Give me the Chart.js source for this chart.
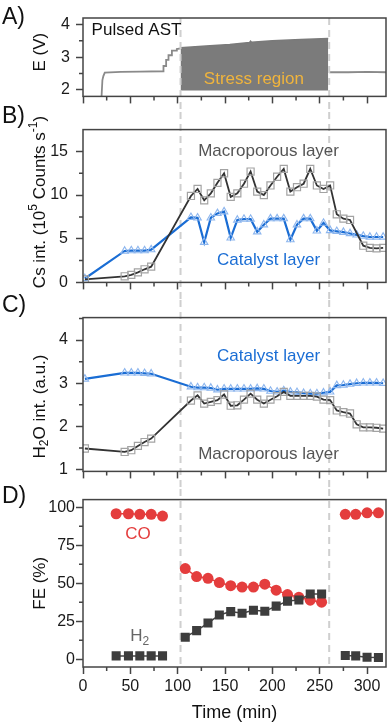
<!DOCTYPE html>
<html lang="en">
<head>
<meta charset="UTF-8">
<title>Pulsed AST – Cs and H2O profiles, Faradaic efficiency</title>
<script src="https://cdn.jsdelivr.net/npm/chart.js"></script>
<style>
  body { margin: 0; background: #fff; font-family: 'Liberation Sans', Arial, sans-serif; }
  .wrap { position: relative; width: 390px; height: 728px; overflow: hidden; }
  .panel { position: absolute; left: 0; width: 390px; }
  #pA { top: 0; height: 112px; }
  #pB { top: 112px; height: 188px; }
  #pC { top: 300px; height: 189px; }
  #pD { top: 489px; height: 239px; }
  .tag { position: absolute; left: 2px; font-size: 23px; line-height: 23px; color: #111; }
</style>
</head>
<body>
<div class="wrap">
  <div class="panel" id="pA"><canvas id="chartA"></canvas></div>
  <div class="panel" id="pB"><canvas id="chartB"></canvas></div>
  <div class="panel" id="pC"><canvas id="chartC"></canvas></div>
  <div class="panel" id="pD"><canvas id="chartD"></canvas></div>
  <div class="tag" style="top:5px">A)</div>
  <div class="tag" style="top:104px">B)</div>
  <div class="tag" style="top:293px">C)</div>
  <div class="tag" style="top:484px">D)</div>
</div>

<script>
// ---- tick labels ----
const timeTicks = [0, 50, 100, 150, 200, 250, 300];
const eTicks = [2, 3, 4];
const csTicks = [0, 5, 10, 15];
const h2oTicks = [1, 2, 3, 4];
const feTicks = [0, 25, 50, 75, 100];
const stressBounds = [103, 260];

// ---- A) cell voltage ----
const ePreTime = [19.5, 20.5, 21.5, 23, 40, 60, 84.9, 85, 87.7, 87.8, 90.2, 90.3, 93.8, 93.9, 99, 99.1, 103];
const ePreVolt = [1.75, 2.3, 2.42, 2.53, 2.55, 2.56, 2.57, 2.73, 2.73, 2.92, 2.92, 3.06, 3.06, 3.2, 3.2, 3.25, 3.27];
const stressTime = [103, 130, 155, 176, 177, 178, 200, 230, 259];
const stressTop = [3.29, 3.34, 3.39, 3.45, 3.49, 3.46, 3.5, 3.54, 3.57];
const stressFloor = 1.98;
const ePostTime = [260, 280, 300, 320];
const ePostVolt = [2.54, 2.54, 2.55, 2.54];

// ---- B) and C) depth profiles ----
const depthTime = [2, 44, 51, 58, 65, 72, 114, 121, 128, 135, 142, 149, 156, 163, 170, 177, 184, 191,
  198, 205, 212, 219, 226, 233, 240, 247, 254, 261, 268, 275, 282, 289, 296, 303, 310, 317];
const csMacro = [0.35, 0.7, 0.86, 1.15, 1.5, 1.8, 9.9, 10.7, 9.4, 10.2, 11.4, 12.5, 9.8, 10.2, 11.3, 12.7, 10.4, 10.0,
  11.1, 12.1, 13.0, 10.4, 10.9, 11.3, 13.0, 11.1, 10.7, 11.1, 7.8, 7.3, 7.15, null, 4.2, 3.95, 3.9, 3.95];
const csCatalyst = [0.45, 3.6, 3.65, 3.65, 3.65, 3.75, 7.45, 7.4, 4.6, 7.4, 7.9, 8.1, 5.1, 7.15, 7.25, 7.25, 5.8, 6.6,
  7.3, 7.3, 7.3, 4.9, 6.6, 7.3, 7.3, 5.9, 6.8, 5.95, 5.85, 5.75, 5.6, 5.45, 5.3, 5.2, 5.2, 5.2];
const h2oMacro = [1.49, 1.41, 1.45, 1.55, 1.64, 1.72, 2.6, 2.72, 2.53, 2.57, 2.61, 2.74, 2.48, 2.49, 2.62, 2.76, 2.62, 2.53,
  2.62, 2.7, 2.8, 2.71, 2.71, 2.71, 2.71, 2.69, 2.62, 2.61, 2.37, 2.33, 2.3, 2.05, 1.98, 1.98, 1.97, 1.95];
const h2oCatalyst = [3.1, 3.24, 3.24, 3.24, 3.23, 3.22, 2.92, 2.9, 2.9, 2.89, 2.85, 2.87, 2.87, 2.87, 2.87, 2.87, 2.88, 2.87,
  2.82, 2.8, 2.83, 2.8, 2.79, 2.77, 2.76, 2.76, 2.78, 2.8, 2.95, 2.96, 2.98, 3.0, 3.01, 3.01, 3.01, 3.0];

// ---- D) Faradaic efficiency (null = break between runs) ----
const feTime = [35, 48, 60, 72, 84, 96, 108, 120, 132, 144, 156, 168, 180, 192, 204, 216, 228, 240, 252, 264, 277, 288, 300, 312];
const feCO = [95.7, 95.7, 95.3, 95.3, 94.2, null, 59.7, 54.4, 53.3, 50.5, 48.4, 47.5, 47.5, 49.4, 45.5, 42.6, 40.8, 38.9, 37.6,
  null, 95.3, 95.3, 96.3, 96.3];
const feH2 = [2.3, 2.3, 2.3, 2.3, 2.3, null, 14.6, 18.9, 23.9, 29.2, 31.4, 30.3, 32.3, 31.6, 35, 38.3, 39.0, 43, 43,
  null, 2.6, 2.3, 1.4, 1.2];

const FONT = "'Liberation Sans', Arial, sans-serif";
const INK = '#444';
const BLUE = '#1a6dd4';
const RED = '#e43d3d';

const pts = (xs, ys) => xs.map((x, i) => ({ x: x, y: ys[i] }));

// text with optional sub/superscript parts, centred on (x, y)
function drawRich(ctx, parts, x, y, size, color, rot) {
  const segs = parts.map(p => typeof p === 'string' ? { t: p, k: '' } : { t: p[0], k: p[1] });
  const fontOf = k => (k ? Math.round(size * 0.68) : size) + 'px ' + FONT;
  ctx.save();
  let w = 0;
  for (const s of segs) { ctx.font = fontOf(s.k); s.w = ctx.measureText(s.t).width; w += s.w; }
  ctx.translate(x, y);
  ctx.rotate(rot || 0);
  ctx.fillStyle = color;
  ctx.textBaseline = 'middle';
  ctx.textAlign = 'left';
  let cx = -w / 2;
  for (const s of segs) {
    ctx.font = fontOf(s.k);
    const dy = s.k === 'sup' ? -size * 0.36 : s.k === 'sub' ? size * 0.3 : 0;
    ctx.fillText(s.t, cx, dy);
    cx += s.w;
  }
  ctx.restore();
}

const frame = {
  id: 'frame',
  afterDraw(chart) {
    const a = chart.chartArea, ctx = chart.ctx;
    ctx.save();
    ctx.strokeStyle = INK;
    ctx.lineWidth = 1.5;
    ctx.strokeRect(a.left, a.top, a.right - a.left, a.bottom - a.top);
    ctx.restore();
  }
};

// short unlabelled ticks halfway between the labelled ones
const minorTicks = {
  id: 'minorTicks',
  afterDraw(chart) {
    const ctx = chart.ctx, a = chart.chartArea;
    ctx.save();
    ctx.strokeStyle = INK;
    ctx.lineWidth = 1.5;
    ctx.beginPath();
    for (const s of Object.values(chart.scales)) {
      const vals = s.ticks.map(t => t.value);
      const step = vals[1] - vals[0];
      const minors = [vals[0] - step / 2].concat(vals.map(v => v + step / 2))
        .filter(v => v > s.min && v < s.max);
      for (const v of minors) {
        const p = s.getPixelForValue(v);
        if (s.isHorizontal()) { ctx.moveTo(p, a.bottom); ctx.lineTo(p, a.bottom + 4); }
        else { ctx.moveTo(a.left, p); ctx.lineTo(a.left - 4, p); }
      }
    }
    ctx.stroke();
    ctx.restore();
  }
};

// dashed markers at the start and end of the stress period
function dashes(chart, o) {
  const ctx = chart.ctx, a = chart.chartArea, x = chart.scales.x;
  const top = o.fromArea ? a.top : 0;
  const bottom = o.toArea ? a.bottom : chart.height;
  ctx.save();
  ctx.strokeStyle = '#cfcfcf';
  ctx.lineWidth = 2;
  ctx.setLineDash([7, 5]);
  ctx.beginPath();
  for (const t of stressBounds) {
    const px = x.getPixelForValue(t);
    ctx.moveTo(px, top);
    ctx.lineTo(px, bottom);
  }
  ctx.stroke();
  ctx.restore();
}
const stressLines = {
  id: 'stressLines',
  beforeDatasetsDraw(chart, args, o) { if (!o.front) dashes(chart, o); },
  afterDatasetsDraw(chart, args, o) { if (o.front) dashes(chart, o); }
};

const notes = {
  id: 'notes',
  afterDatasetsDraw(chart, args, o) {
    const x = chart.scales.x, y = chart.scales.y, a = chart.chartArea;
    for (const n of o.items || []) {
      drawRich(chart.ctx, n.parts, x.getPixelForValue(n.x), y.getPixelForValue(n.y), n.size || 17, n.color, 0);
    }
    if (o.yTitle) {
      drawRich(chart.ctx, o.yTitle.parts, 40, (a.top + a.bottom) / 2 + o.yTitle.dy, 17, '#111', -Math.PI / 2);
    }
  }
};

function xScale(labels, height) {
  return {
    type: 'linear', min: 0, max: 320,
    afterBuildTicks: s => { s.ticks = timeTicks.map(v => ({ value: v })); },
    afterFit: s => { s.height = height; },
    border: { display: false },
    grid: { drawOnChartArea: false, drawTicks: true, tickLength: 7, tickColor: INK, tickWidth: 1.5 },
    ticks: { display: labels, padding: 3, color: '#1a1a1a', maxRotation: 0, font: { family: FONT, size: 16 } },
    title: { display: labels, text: 'Time (min)', color: '#111', padding: { top: 0, bottom: 4 }, font: { family: FONT, size: 18 } }
  };
}

function yScale(min, max, ticks, pad) {
  return {
    type: 'linear', min: min, max: max,
    afterBuildTicks: s => { s.ticks = ticks.map(v => ({ value: v })); },
    afterFit: s => { s.width = 83; },
    border: { display: false },
    grid: { drawOnChartArea: false, drawTicks: true, tickLength: 7, tickColor: INK, tickWidth: 1.5 },
    ticks: { padding: pad, color: '#1a1a1a', font: { family: FONT, size: 16 } }
  };
}

function makeChart(id, datasets, scales, padTop, plugOpts) {
  return new Chart(document.getElementById(id), {
    type: 'line',
    data: { datasets: datasets },
    options: {
      responsive: true,
      maintainAspectRatio: false,
      animation: false,
      events: [],
      parsing: true,
      layout: { autoPadding: false, padding: { top: padTop, right: 4, bottom: 0, left: 0 } },
      scales: scales,
      plugins: Object.assign({ legend: { display: false }, tooltip: { enabled: false } }, plugOpts)
    },
    plugins: [stressLines, notes, minorTicks, frame]
  });
}

const macroStyle = {
  borderColor: '#333', borderWidth: 1.8, pointStyle: 'rect', pointRadius: 5,
  pointBorderColor: '#a3a3a3', pointBackgroundColor: 'rgba(0,0,0,0)', pointBorderWidth: 1.2, spanGaps: true
};
const catStyle = {
  borderColor: BLUE, borderWidth: 2.2, pointStyle: 'triangle', pointRadius: 4.3,
  pointBorderColor: '#8db6ee', pointBackgroundColor: 'rgba(0,0,0,0)', pointBorderWidth: 1.1
};

// A) voltage
makeChart('chartA', [
  { data: pts(stressTime, stressTop), borderColor: '#7a7a7a', borderWidth: 1.5, backgroundColor: '#7b7b7b',
    fill: { value: stressFloor }, pointRadius: 0 },
  { data: pts(ePreTime, ePreVolt), borderColor: '#8a8a8a', borderWidth: 1.8, pointRadius: 0, fill: false },
  { data: pts(ePostTime, ePostVolt), borderColor: '#8a8a8a', borderWidth: 1.8, pointRadius: 0, fill: false }
], { x: xScale(false, 9), y: yScale(1.8, 4.2, eTicks, 6) }, 18, {
  stressLines: { fromArea: true, toArea: false, front: true },
  notes: {
    items: [
      { parts: ['Pulsed AST'], x: 56.5, y: 3.83, color: '#111' },
      { parts: ['Stress region'], x: 180.5, y: 2.33, color: '#f0b43c' }
    ],
    yTitle: { parts: ['E (V)'], dy: -5 }
  }
});

// B) Cs intensity
makeChart('chartB', [
  Object.assign({ data: pts(depthTime, csMacro) }, macroStyle),
  Object.assign({ data: pts(depthTime, csCatalyst) }, catStyle)
], { x: xScale(false, 9), y: yScale(0, 17.5, csTicks, 8) }, 9, {
  stressLines: { fromArea: false, toArea: false },
  notes: {
    items: [
      { parts: ['Macroporous layer'], x: 196, y: 15.05, color: '#555' },
      { parts: ['Catalyst layer'], x: 196, y: 2.58, color: BLUE }
    ],
    yTitle: { parts: ['Cs int. (10', ['5', 'sup'], ' Counts s', ['-1', 'sup'], ')'], dy: -4 }
  }
});

// C) H2O intensity
makeChart('chartC', [
  Object.assign({ data: pts(depthTime, h2oMacro) }, macroStyle),
  Object.assign({ data: pts(depthTime, h2oCatalyst) }, catStyle)
], { x: xScale(false, 9), y: yScale(0.96, 4.52, h2oTicks, 8) }, 8, {
  stressLines: { fromArea: false, toArea: false },
  notes: {
    items: [
      { parts: ['Catalyst layer'], x: 196, y: 3.62, color: BLUE },
      { parts: ['Macroporous layer'], x: 196, y: 1.36, color: '#555' }
    ],
    yTitle: { parts: ['H', ['2', 'sub'], 'O int. (a.u.)'], dy: 12 }
  }
});

// D) Faradaic efficiency
makeChart('chartD', [
  { data: pts(feTime, feH2), borderColor: '#444', borderWidth: 1.5, pointStyle: 'rect', pointRadius: 6.4,
    pointBackgroundColor: '#3d3d3d', pointBorderColor: '#3d3d3d', pointBorderWidth: 0, spanGaps: false },
  { data: pts(feTime, feCO), borderColor: RED, borderWidth: 1.5, pointStyle: 'circle', pointRadius: 5.5,
    pointBackgroundColor: RED, pointBorderColor: RED, pointBorderWidth: 0, spanGaps: false }
], { x: xScale(true, 61), y: yScale(-5, 105, feTicks, 1) }, 8, {
  stressLines: { fromArea: false, toArea: true },
  notes: {
    items: [
      { parts: ['CO'], x: 58, y: 82, color: RED },
      { parts: ['H', ['2', 'sub']], x: 60, y: 15, color: '#666' }
    ],
    yTitle: { parts: ['FE (%)'], dy: 0 }
  }
});
</script>
</body>
</html>
